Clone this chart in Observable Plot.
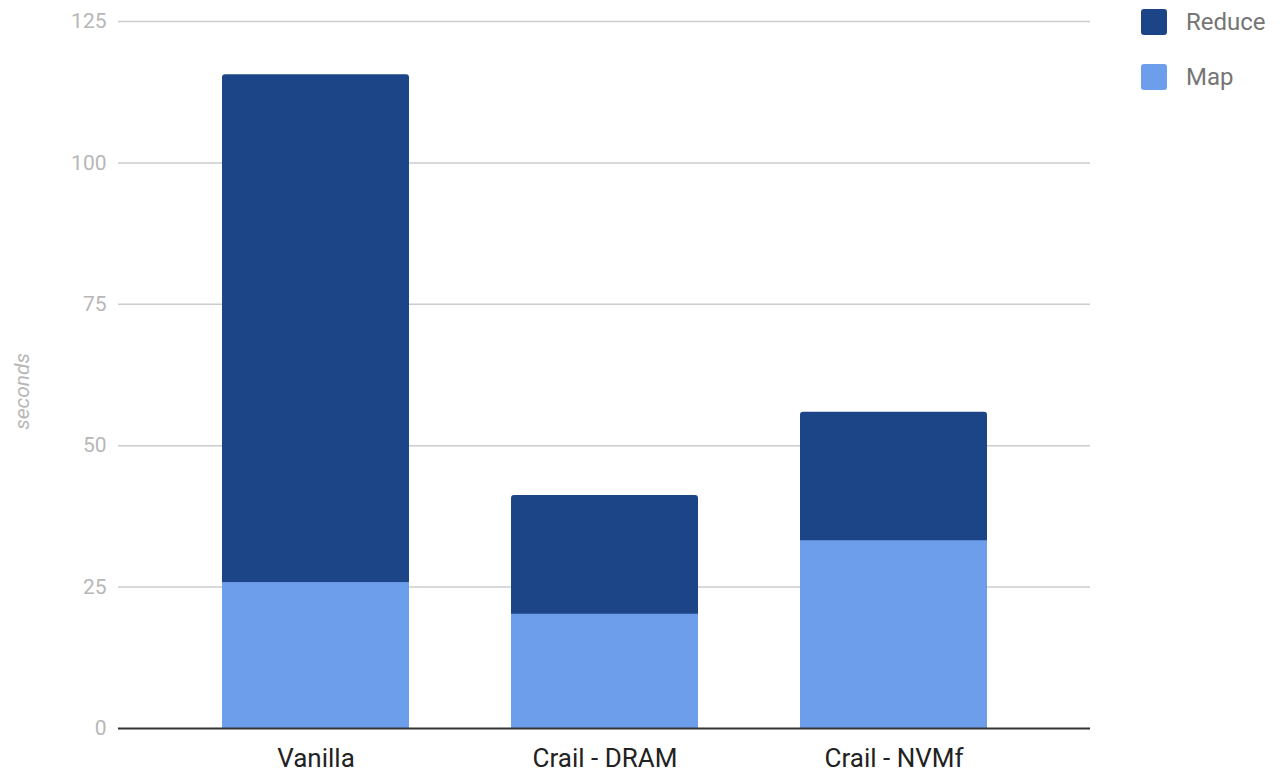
<!DOCTYPE html>
<html>
<head>
<meta charset="utf-8">
<script src="https://cdn.jsdelivr.net/npm/d3@7"></script>
<script src="https://cdn.jsdelivr.net/npm/@observablehq/plot@0.6"></script>
<style>
  html, body { margin: 0; padding: 0; background: #fff; }
  #wrap { position: relative; width: 1286px; height: 773px; font-family: Roboto, "Noto Sans", sans-serif; }
  #legend { position: absolute; left: 1141px; top: 9px; }
  .item { display: flex; align-items: center; height: 26px; margin-bottom: 29px; }
  .sw { width: 26px; height: 26px; border-radius: 3px; margin-right: 19px; }
  .lab { font-size: 24px; color: #757575; }
</style>
</head>
<body>
<div id="wrap"><div id="legend"></div></div>
<script>
// Job run times per configuration, split into map and reduce phases (seconds)
const configs = ["Vanilla", "Crail - DRAM", "Crail - NVMf"];
const mapSeconds = [25.8, 20.2, 33.2];
const reduceSeconds = [89.8, 21.0, 22.7];
const yTicks = [0, 25, 50, 75, 100, 125];
const phases = ["Reduce", "Map"];
const phaseColors = ["#1c4587", "#6d9eeb"];

const rows = configs.map((c, i) => ({
  config: c,
  map: mapSeconds[i],
  reduce: reduceSeconds[i],
  total: mapSeconds[i] + reduceSeconds[i]
}));

const chart = Plot.plot({
  width: 1286,
  height: 773,
  marginLeft: 118,
  marginRight: 196,
  marginTop: 21,
  marginBottom: 45,
  style: { fontFamily: "Roboto, 'Noto Sans', sans-serif", background: "#fff" },
  x: { domain: configs, padding: 0.353, label: null },
  y: { domain: [0, 125], ticks: yTicks, label: null },
  marks: [
    Plot.ruleY(yTicks.filter(d => d > 0), { stroke: "#cccccc", strokeWidth: 1.5 }),
    // full bar (map + reduce) in the reduce colour, rounded at the top
    Plot.barY(rows, { x: "config", y1: 0, y2: "total", fill: phaseColors[0], rx: 3 }),
    // map phase drawn over the lower part
    Plot.barY(rows, { x: "config", y1: 0, y2: "map", fill: phaseColors[1] }),
    Plot.ruleY([0], { stroke: "#333", strokeWidth: 2 }),
    Plot.axisY({ ticks: yTicks, tickSize: 0, tickPadding: 12, fontSize: 21, fill: "#b7b7b7", label: null }),
    Plot.axisX({ tickSize: 0, tickPadding: 20, fontSize: 26, fill: "#222", label: null }),
    Plot.text(["seconds"], { frameAnchor: "left", textAnchor: "middle", dx: -96, rotate: -90, fontSize: 21, fontStyle: "italic", fill: "#b7b7b7", y: () => 59.6 })
  ]
});

const wrap = document.getElementById("wrap");
wrap.insertBefore(chart, wrap.firstChild);

const legend = document.getElementById("legend");
phases.forEach((p, i) => {
  const item = document.createElement("div");
  item.className = "item";
  item.innerHTML = `<div class="sw" style="background:${phaseColors[i]}"></div><span class="lab">${p}</span>`;
  legend.appendChild(item);
});
</script>
</body>
</html>
